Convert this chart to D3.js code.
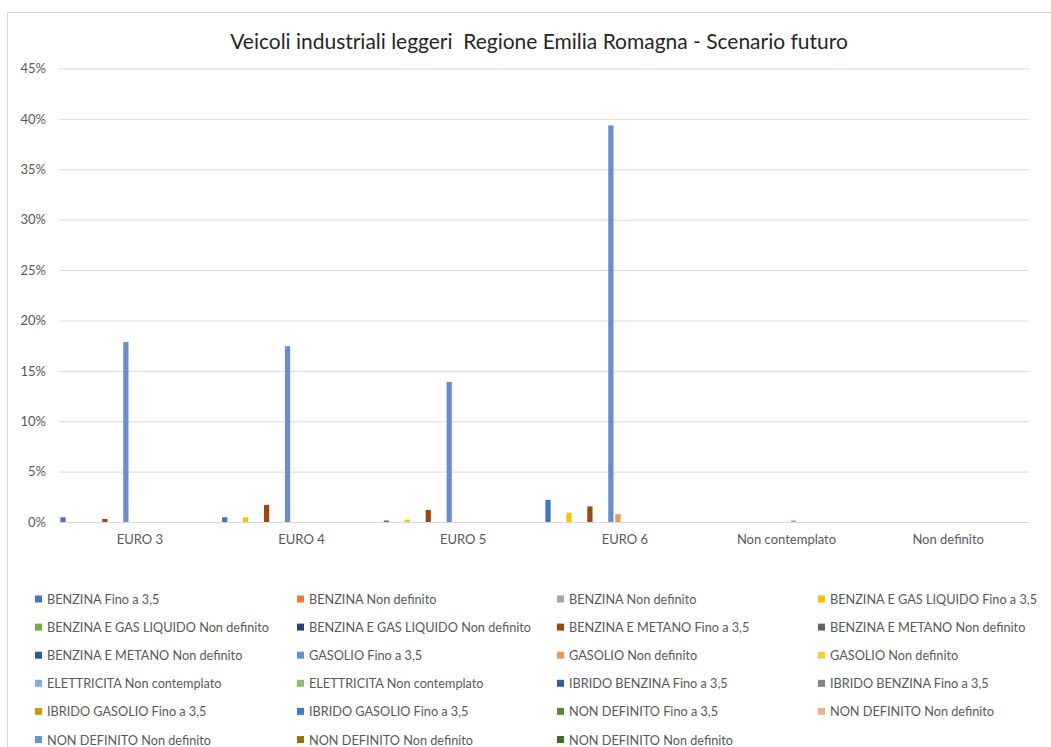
<!DOCTYPE html>
<html>
<head>
<meta charset="utf-8">
<script src="https://cdn.jsdelivr.net/npm/d3@7"></script>
<style>
  html, body { margin: 0; padding: 0; background: #ffffff; }
  svg { display: block; }
  text { font-family: Lato, "Open Sans", "Liberation Sans", sans-serif; }
</style>
</head>
<body>
<svg id="chart" width="1051" height="747"></svg>
<script>
// ---------- DATA ----------
const title = "Veicoli industriali leggeri  Regione Emilia Romagna - Scenario futuro";
const categories = ["EURO 3", "EURO 4", "EURO 5", "EURO 6", "Non contemplato", "Non definito"];
const yTicks = [0, 5, 10, 15, 20, 25, 30, 35, 40, 45];

const seriesNames = [
  "BENZINA Fino a 3,5", "BENZINA Non definito", "BENZINA Non definito", "BENZINA E GAS LIQUIDO Fino a 3,5",
  "BENZINA E GAS LIQUIDO Non definito", "BENZINA E GAS LIQUIDO Non definito", "BENZINA E METANO Fino a 3,5", "BENZINA E METANO Non definito",
  "BENZINA E METANO Non definito", "GASOLIO Fino a 3,5", "GASOLIO Non definito", "GASOLIO Non definito",
  "ELETTRICITA Non contemplato", "ELETTRICITA Non contemplato", "IBRIDO BENZINA Fino a 3,5", "IBRIDO BENZINA Fino a 3,5",
  "IBRIDO GASOLIO Fino a 3,5", "IBRIDO GASOLIO Fino a 3,5", "NON DEFINITO Fino a 3,5", "NON DEFINITO Non definito",
  "NON DEFINITO Non definito", "NON DEFINITO Non definito", "NON DEFINITO Non definito"
];
const seriesColors = [
  "#4472C4", "#ED7D31", "#A5A5A5", "#FFC000",
  "#70AD47", "#264478", "#9E480E", "#636363",
  "#255E91", "#698ED0", "#F1975A", "#FFCD33",
  "#7CAFDD", "#8CC168", "#335AA1", "#848484",
  "#CC9A00", "#3A7EC6", "#5A8A39", "#F4B183",
  "#5E9AD6", "#9A7400", "#43682B"
];

// values in percent, per category (EURO 3, EURO 4, EURO 5, EURO 6, Non contemplato, Non definito)
const benzinaFino        = [0.47, 0.47, 0.15, 2.2, 0, 0];
const benzinaGplFino     = [0, 0.47, 0.23, 0.92, 0, 0];
const benzinaMetanoFino  = [0.3, 1.7, 1.2, 1.55, 0, 0];
const gasolioFino        = [17.85, 17.45, 13.9, 39.35, 0, 0];
const gasolioNonDef      = [0, 0, 0, 0.78, 0, 0];
const elettricitaNonCont = [0, 0, 0, 0, 0.15, 0];
const zeros              = [0, 0, 0, 0, 0, 0];

const seriesValues = [
  benzinaFino, zeros, zeros, benzinaGplFino,
  zeros, zeros, benzinaMetanoFino, zeros,
  zeros, gasolioFino, gasolioNonDef, zeros,
  elettricitaNonCont, zeros, zeros, zeros,
  zeros, zeros, zeros, zeros,
  zeros, zeros, zeros
];

// ---------- LAYOUT ----------
const svg = d3.select("#chart");
const plot = { left: 59, right: 1029, top: 68.5, bottom: 522 };
const textColor = "#595959";
const gridColor = "#D9D9D9";

// chart border
svg.append("rect")
  .attr("x", 7.5).attr("y", 12.5)
  .attr("width", 1200).attr("height", 900)
  .attr("fill", "#ffffff").attr("stroke", gridColor).attr("stroke-width", 1);

// fit helper
function fitFont(sel, target) {
  let fs = parseFloat(sel.attr("font-size"));
  const w = sel.node().getComputedTextLength();
  sel.attr("font-size", (fs * target / w).toFixed(2));
}

// title
const t = svg.append("text")
  .attr("x", 539).attr("y", 40)
  .attr("text-anchor", "middle").attr("dominant-baseline", "central")
  .attr("font-size", 19).attr("fill", "#262626")
  .style("white-space", "pre")
  .attr("xml:space", "preserve")
  .text(title);
fitFont(t, 618);

const x0 = d3.scaleBand().domain(categories).range([plot.left, plot.right]).padding(0);
const x1 = d3.scaleBand().domain(d3.range(seriesNames.length)).range([0, x0.bandwidth()])
  .paddingInner(0.25).paddingOuter(0.2);
const y = d3.scaleLinear().domain([0, 45]).range([plot.bottom, plot.top]);

// gridlines
const grid = svg.append("g").attr("transform", `translate(${plot.left},0)`)
  .call(d3.axisLeft(y).tickValues(yTicks).tickSize(-(plot.right - plot.left)).tickFormat(""));
grid.select(".domain").remove();
grid.selectAll("line").attr("stroke", gridColor).attr("stroke-width", 1);

// y axis labels
const yAxis = svg.append("g").attr("transform", `translate(${plot.left - 10},0)`)
  .call(d3.axisLeft(y).tickValues(yTicks).tickSize(0).tickFormat(d => d + "%"));
yAxis.select(".domain").remove();
yAxis.selectAll("text").attr("fill", textColor).attr("font-size", 13)
  .style("font-family", "Lato, 'Open Sans', sans-serif");

// bars
const groups = svg.append("g").selectAll("g").data(categories).join("g")
  .attr("transform", d => `translate(${x0(d)},0)`);
groups.selectAll("rect")
  .data((c, ci) => seriesValues.map((vals, si) => ({ si, v: vals[ci] })).filter(d => d.v > 0))
  .join("rect")
  .attr("x", d => x1(d.si))
  .attr("width", x1.bandwidth())
  .attr("y", d => y(d.v))
  .attr("height", d => y(0) - y(d.v))
  .attr("fill", d => seriesColors[d.si]);

// x axis
const xAxis = svg.append("g").attr("transform", `translate(0,${plot.bottom})`)
  .call(d3.axisBottom(x0).tickSize(0).tickPadding(13));
xAxis.select(".domain").attr("stroke", gridColor).attr("stroke-width", 1);
xAxis.selectAll("text").attr("fill", textColor).attr("font-size", 13)
  .style("font-family", "Lato, 'Open Sans', sans-serif");

// legend
const colX = [35, 297, 557, 818];
const rowY0 = 599, rowStep = 28.1;
const legend = svg.append("g").selectAll("g").data(seriesNames).join("g")
  .attr("transform", (d, i) => `translate(${colX[i % 4]},${rowY0 + Math.floor(i / 4) * rowStep})`);
legend.append("rect")
  .attr("x", 0).attr("y", -3.5).attr("width", 7).attr("height", 7)
  .attr("fill", (d, i) => seriesColors[i]);
legend.append("text")
  .attr("x", 12).attr("y", 0).attr("dominant-baseline", "central")
  .attr("font-size", 12.7).attr("fill", textColor)
  .text(d => d);
</script>
</body>
</html>
